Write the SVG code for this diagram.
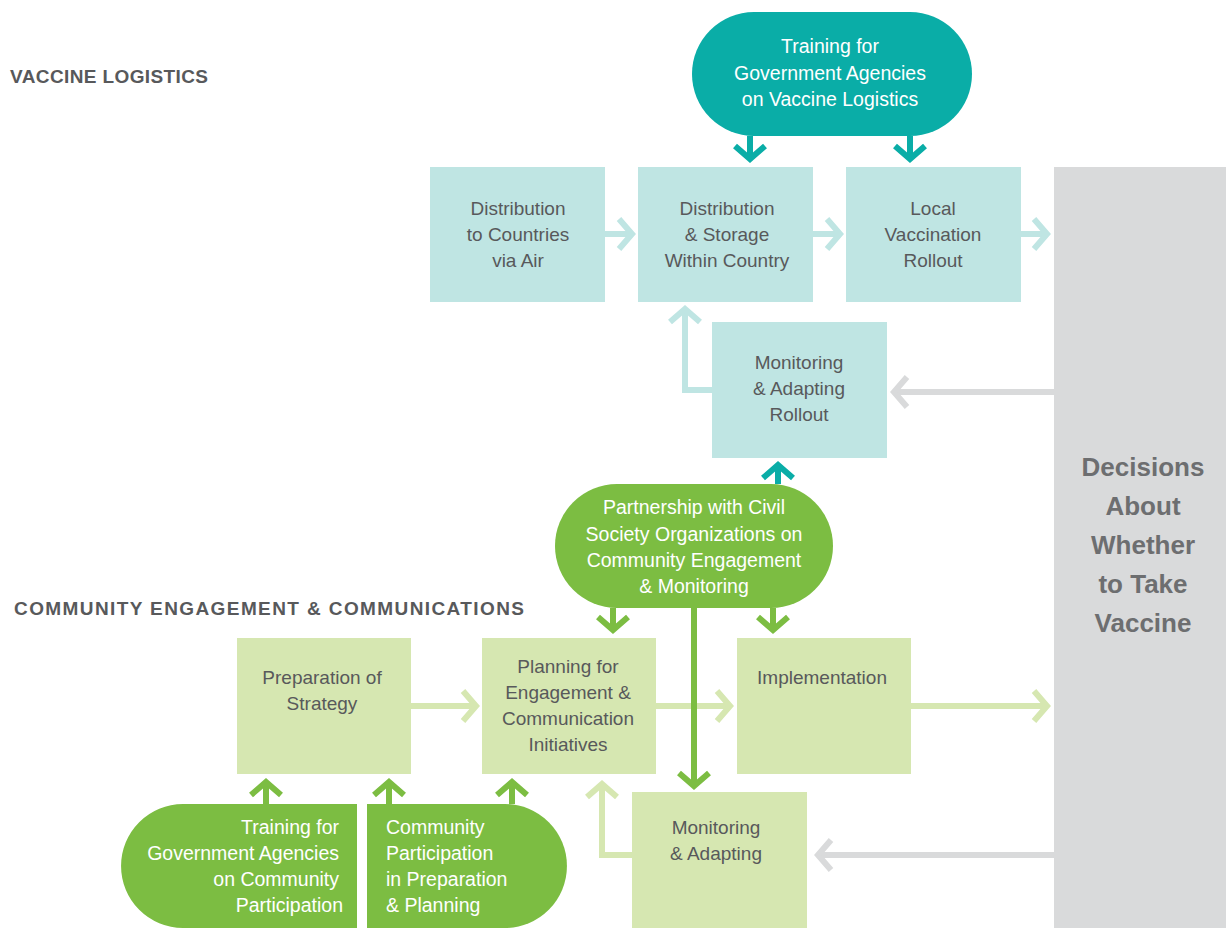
<svg xmlns="http://www.w3.org/2000/svg" width="1226" height="928" viewBox="0 0 1226 928">
  <style>
    .lbl { font-family: "Liberation Sans", Arial, sans-serif; font-size: 19px; fill: #58595b; text-anchor: middle; }
    .pill { font-family: "Liberation Sans", Arial, sans-serif; font-size: 19.5px; fill: #ffffff; text-anchor: middle; }
    .head { font-family: "Liberation Sans", Arial, sans-serif; font-size: 19px; font-weight: bold; fill: #58595b; }
    .dec { font-family: "Liberation Sans", Arial, sans-serif; font-size: 26px; font-weight: bold; fill: #6d6e70; text-anchor: middle; }
    .boxT { fill: #bfe5e3; }
    .boxG { fill: #d6e7b1; }
    .pillT { fill: #0aada7; }
    .pillG { fill: #7cbd42; }
    .c { fill: none; stroke-width: 6; }
    .cT { stroke: #0aada7; marker-end: url(#mT); }
    .cLT { stroke: #bfe5e3; marker-end: url(#mLT); }
    .cG { stroke: #7cbd42; marker-end: url(#mG); }
    .cLG { stroke: #d6e7b1; marker-end: url(#mLG); }
    .cGr { stroke: #d9dadb; marker-end: url(#mGr); }
  </style>
  <defs>
    <marker id="mT" markerUnits="userSpaceOnUse" markerWidth="40" markerHeight="40" viewBox="-20 -20 40 40" refX="0" refY="0" orient="auto" overflow="visible">
      <path d="M-13,-15 L0,0 L-13,15" fill="none" stroke="#0aada7" stroke-width="6"/>
    </marker>
    <marker id="mLT" markerUnits="userSpaceOnUse" markerWidth="40" markerHeight="40" viewBox="-20 -20 40 40" refX="0" refY="0" orient="auto" overflow="visible">
      <path d="M-13,-15 L0,0 L-13,15" fill="none" stroke="#bfe5e3" stroke-width="6"/>
    </marker>
    <marker id="mG" markerUnits="userSpaceOnUse" markerWidth="40" markerHeight="40" viewBox="-20 -20 40 40" refX="0" refY="0" orient="auto" overflow="visible">
      <path d="M-13,-15 L0,0 L-13,15" fill="none" stroke="#7cbd42" stroke-width="6"/>
    </marker>
    <marker id="mLG" markerUnits="userSpaceOnUse" markerWidth="40" markerHeight="40" viewBox="-20 -20 40 40" refX="0" refY="0" orient="auto" overflow="visible">
      <path d="M-13,-15 L0,0 L-13,15" fill="none" stroke="#d6e7b1" stroke-width="6"/>
    </marker>
    <marker id="mGr" markerUnits="userSpaceOnUse" markerWidth="40" markerHeight="40" viewBox="-20 -20 40 40" refX="0" refY="0" orient="auto" overflow="visible">
      <path d="M-13,-15 L0,0 L-13,15" fill="none" stroke="#d9dadb" stroke-width="6"/>
    </marker>
  </defs>

  <rect width="1226" height="928" fill="#ffffff"/>

  <!-- section headings -->
  <text class="head" x="10" y="83" textLength="198" lengthAdjust="spacing">VACCINE LOGISTICS</text>
  <text class="head" x="14" y="615" textLength="510" lengthAdjust="spacing">COMMUNITY ENGAGEMENT &amp; COMMUNICATIONS</text>

  <!-- connectors -->
  <g id="connectors">
    <!-- logistics row -->
    <path class="c cLT" d="M605,234 H632"/>
    <path class="c cLT" d="M813,234 H840"/>
    <path class="c cLT" d="M1021,234 H1047"/>
    <path class="c cLT" d="M712,390 H685 V309"/>
    <path class="c cGr" d="M1054,392 H894"/>
    <path class="c cT" d="M750,136 V159"/>
    <path class="c cT" d="M910,136 V159"/>
    <path class="c cT" d="M778,484 V465"/>
    <!-- community row -->
    <path class="c cLG" d="M411,706 H476"/>
    <path class="c cLG" d="M656,706 H730"/>
    <path class="c cLG" d="M911,706 H1047"/>
    <path class="c cLG" d="M632,855 H602 V784"/>
    <path class="c cGr" d="M1054,855 H818"/>
    <path class="c cG" d="M613,608 V630"/>
    <path class="c cG" d="M773,608 V630"/>
    <path class="c cG" d="M694,608 V786"/>
    <path class="c cG" d="M266,804 V782"/>
    <path class="c cG" d="M389,804 V782"/>
    <path class="c cG" d="M512,804 V782"/>
  </g>

  <!-- decision panel -->
  <g id="decisions">
    <rect x="1054" y="167" width="172" height="761" fill="#d9dadb"/>
    <text class="dec" x="1143" y="476">Decisions</text>
    <text class="dec" x="1143" y="515">About</text>
    <text class="dec" x="1143" y="554">Whether</text>
    <text class="dec" x="1143" y="593">to Take</text>
    <text class="dec" x="1143" y="632">Vaccine</text>
  </g>

  <!-- vaccine logistics nodes -->
  <g id="training-logistics">
    <rect class="pillT" x="692" y="12" width="280" height="124" rx="62"/>
    <text class="pill" x="830" y="53">Training for</text>
    <text class="pill" x="830" y="80">Government Agencies</text>
    <text class="pill" x="830" y="106">on Vaccine Logistics</text>
  </g>
  <g id="distribution-air">
    <rect class="boxT" x="430" y="167" width="175" height="135"/>
    <text class="lbl" x="518" y="215">Distribution</text>
    <text class="lbl" x="518" y="241">to Countries</text>
    <text class="lbl" x="518" y="267">via Air</text>
  </g>
  <g id="distribution-storage">
    <rect class="boxT" x="638" y="167" width="175" height="135"/>
    <text class="lbl" x="727" y="215">Distribution</text>
    <text class="lbl" x="727" y="241">&amp; Storage</text>
    <text class="lbl" x="727" y="267">Within Country</text>
  </g>
  <g id="local-rollout">
    <rect class="boxT" x="846" y="167" width="175" height="135"/>
    <text class="lbl" x="933" y="215">Local</text>
    <text class="lbl" x="933" y="241">Vaccination</text>
    <text class="lbl" x="933" y="267">Rollout</text>
  </g>
  <g id="monitoring-rollout">
    <rect class="boxT" x="712" y="322" width="175" height="136"/>
    <text class="lbl" x="799" y="369">Monitoring</text>
    <text class="lbl" x="799" y="395">&amp; Adapting</text>
    <text class="lbl" x="799" y="421">Rollout</text>
  </g>

  <!-- community engagement nodes -->
  <g id="partnership-cso">
    <rect class="pillG" x="555" y="484" width="278" height="124" rx="62"/>
    <text class="pill" x="694" y="514">Partnership with Civil</text>
    <text class="pill" x="694" y="541">Society Organizations on</text>
    <text class="pill" x="694" y="567">Community Engagement</text>
    <text class="pill" x="694" y="593">&amp; Monitoring</text>
  </g>
  <g id="preparation-strategy">
    <rect class="boxG" x="237" y="638" width="174" height="136"/>
    <text class="lbl" x="322" y="684">Preparation of</text>
    <text class="lbl" x="322" y="710">Strategy</text>
  </g>
  <g id="planning">
    <rect class="boxG" x="482" y="638" width="174" height="136"/>
    <text class="lbl" x="568" y="673">Planning for</text>
    <text class="lbl" x="568" y="699">Engagement &amp;</text>
    <text class="lbl" x="568" y="725">Communication</text>
    <text class="lbl" x="568" y="751">Initiatives</text>
  </g>
  <g id="implementation">
    <rect class="boxG" x="737" y="638" width="174" height="136"/>
    <text class="lbl" x="822" y="684">Implementation</text>
  </g>
  <g id="monitoring-adapting">
    <rect class="boxG" x="632" y="792" width="175" height="136"/>
    <text class="lbl" x="716" y="834">Monitoring</text>
    <text class="lbl" x="716" y="860">&amp; Adapting</text>
  </g>
  <g id="training-community">
    <path class="pillG" d="M357,804 H183 A62,62 0 0 0 183,928 H357 Z"/>
    <text class="pill" x="339" y="834" style="text-anchor:end">Training for</text>
    <text class="pill" x="339" y="860" style="text-anchor:end">Government Agencies</text>
    <text class="pill" x="339" y="886" style="text-anchor:end">on Community</text>
    <text class="pill" x="343" y="912" style="text-anchor:end">Participation</text>
  </g>
  <g id="community-participation">
    <path class="pillG" d="M367,804 H505 A62,62 0 0 1 505,928 H367 Z"/>
    <text class="pill" x="386" y="834" style="text-anchor:start">Community</text>
    <text class="pill" x="386" y="860" style="text-anchor:start">Participation</text>
    <text class="pill" x="386" y="886" style="text-anchor:start">in Preparation</text>
    <text class="pill" x="386" y="912" style="text-anchor:start">&amp; Planning</text>
  </g>
</svg>
